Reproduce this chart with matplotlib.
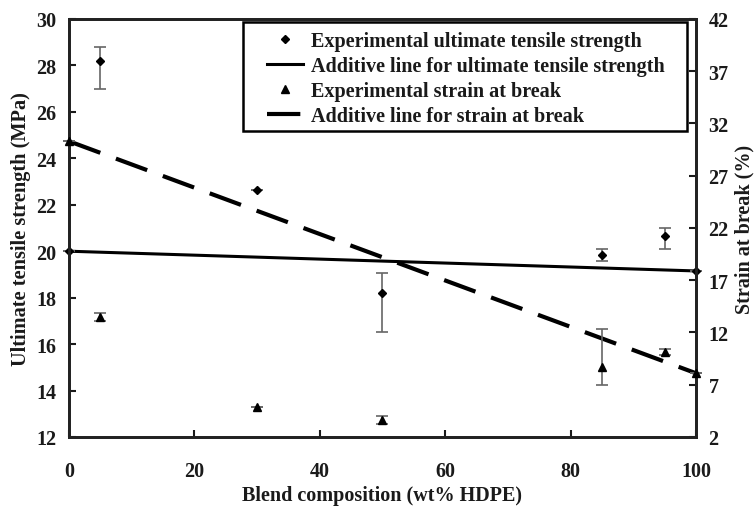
import numpy as np
import matplotlib
matplotlib.use("Agg")
import matplotlib.pyplot as plt
from matplotlib.patches import Rectangle

# Blend composition (wt% HDPE)
comp = [0, 5, 30, 50, 85, 95, 100]

# Ultimate tensile strength (MPa) with lower/upper error
uts = [20.0, 28.2, 22.65, 18.2, 19.85, 20.65, 19.15]
uts_lo = [0.0, 1.2, 0.0, 1.7, 0.25, 0.55, 0.0]
uts_hi = [0.0, 0.6, 0.0, 0.85, 0.25, 0.35, 0.0]

# Strain at break (%) with lower/upper error
strain = [30.3, 13.5, 4.9, 3.65, 8.7, 10.1, 8.1]
strain_lo = [0.0, 0.4, 0.0, 0.4, 1.7, 0.3, 0.0]
strain_hi = [0.0, 0.4, 0.0, 0.4, 3.6, 0.3, 0.0]

# additive (rule of mixtures) lines between the pure components
add_x = [0, 100]
add_uts = [20.0, 19.15]
add_strain = [30.3, 8.1]

plt.rcParams['font.family'] = ['Liberation Serif', 'DejaVu Serif']
plt.rcParams['font.weight'] = 'bold'
plt.rcParams['axes.labelweight'] = 'bold'
txt = '#1a1a1a'

fig = plt.figure(figsize=(7.56, 5.10), dpi=100)
ax = fig.add_axes([0.0913, 0.1412, 0.8293, 0.8196])
ax2 = ax.twinx()

ax.errorbar(comp, uts, yerr=[uts_lo, uts_hi], fmt='none', ecolor='#666666',
            elinewidth=1.2, capsize=4, capthick=1.2, zorder=3, clip_on=False)
h1, = ax.plot(comp, uts, linestyle='none', marker='D', markersize=4.5,
              color='black', zorder=4, clip_on=False,
              label='Experimental ultimate tensile strength')
h2, = ax.plot(add_x, add_uts, '-', color='black', linewidth=2.2,
              label='Additive line for ultimate tensile strength')

ax2.errorbar(comp, strain, yerr=[strain_lo, strain_hi], fmt='none', ecolor='#666666',
             elinewidth=1.2, capsize=4, capthick=1.2, zorder=3, clip_on=False)
h3, = ax2.plot(comp, strain, linestyle='none', marker='^', markersize=5.5,
               color='black', zorder=4, clip_on=False,
               label='Experimental strain at break')
h4, = ax2.plot(add_x, add_strain, color='black', linewidth=3,
               dashes=(8, 4), label='Additive line for strain at break')

ax.set_xlim(0, 100)
ax.set_ylim(12, 30)
ax2.set_ylim(2, 42)
ax.set_xticks(np.arange(0, 101, 20))
ax.set_yticks(np.arange(12, 31, 2))
ax2.set_yticks(np.arange(2, 43, 5))

for a in (ax, ax2):
    for s in a.spines.values():
        s.set_linewidth(2)
        s.set_color('#222222')
ax.tick_params(axis='y', direction='in', length=5, width=1.5,
               labelsize=14.5, colors=txt, pad=9)
ax.tick_params(axis='x', direction='in', length=5, width=1.5,
               labelsize=14.5, colors=txt, pad=17)
ax2.tick_params(axis='y', direction='in', length=5, width=1.5,
                labelsize=14.5, colors=txt, pad=9)

ax.set_xlabel('Blend composition (wt% HDPE)', fontsize=14.5, color=txt, labelpad=3)
ax.set_ylabel('Ultimate tensile strength (MPa)', fontsize=14.7, color=txt, labelpad=4)
ax2.set_ylabel('Strain at break (%)', fontsize=14.5, color=txt, labelpad=4)

# legend box is wider than its contents, so draw the frame separately
box = Rectangle((0.2775, 0.732), 0.708, 0.2608, transform=ax2.transAxes,
                facecolor='white', edgecolor='black', linewidth=1.8, zorder=5)
ax2.add_patch(box)
leg = ax2.legend(handles=[h1, h2, h3, h4], loc='upper left',
                 bbox_to_anchor=(0.3158, 0.972), fontsize=14.5, frameon=False,
                 handlelength=1.8, handletextpad=0.4, borderpad=0,
                 labelspacing=0.25, borderaxespad=0)
leg.set_zorder(6)
for t in leg.get_texts():
    t.set_color(txt)

fig.savefig('out.png', dpi=100)
